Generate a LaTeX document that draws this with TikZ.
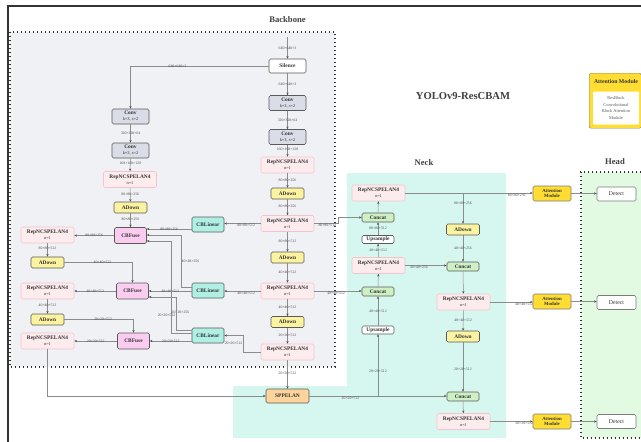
\documentclass[tikz,border=0pt]{standalone}
\usepackage{fontspec}
\setmainfont{Liberation Serif}
\usetikzlibrary{arrows.meta, positioning}
\definecolor{bbgray}{RGB}{240,241,244}
\definecolor{neckcyan}{RGB}{214,247,240}
\definecolor{headgreen}{RGB}{226,249,226}
\definecolor{convgray}{RGB}{218,221,232}
\definecolor{reppink}{RGB}{253,236,238}
\definecolor{repedge}{RGB}{244,196,204}
\definecolor{adyellow}{RGB}{251,243,160}
\definecolor{fusepink}{RGB}{250,204,240}
\definecolor{lincyan}{RGB}{176,240,228}
\definecolor{catgreen}{RGB}{206,240,196}
\definecolor{sppor}{RGB}{252,212,156}
\definecolor{attgold}{RGB}{255,221,51}
\definecolor{edge}{RGB}{90,90,90}
\definecolor{wirec}{RGB}{140,140,140}
\newcommand{\nrep}{RepNCSPELAN4\\{\mdseries\fontsize{4.4}{5}\selectfont n=1}}
\newcommand{\convk}{Conv\\{\mdseries\fontsize{4.4}{5}\selectfont k=3, s=2}}

\begin{document}
\begin{tikzpicture}[x=1pt, y=-1pt,
    blk/.style={draw=edge, rounded corners=1.5pt, align=center, inner sep=0pt, line width=0.6pt, text=black!80, font=\fontsize{5.4}{6}\selectfont\bfseries},
    conv/.style={blk, fill=convgray, minimum width=37pt, minimum height=15pt},
    rep/.style={blk, draw=repedge, fill=reppink, minimum width=53pt, minimum height=16pt},
    adown/.style={blk, fill=adyellow, minimum width=33pt, minimum height=11pt},
    fuse/.style={blk, fill=fusepink, minimum width=32pt, minimum height=16pt},
    lin/.style={blk, fill=lincyan, minimum width=32pt, minimum height=15pt},
    cat/.style={blk, fill=catgreen, minimum width=32pt, minimum height=9pt},
    plain/.style={blk, fill=white, minimum width=32pt, minimum height=8pt},
    spp/.style={blk, fill=sppor, minimum width=43pt, minimum height=14pt},
    att/.style={blk, draw=edge!80, fill=attgold, minimum width=38pt, minimum height=15pt, font=\fontsize{4.8}{5.4}\selectfont\bfseries},
    det/.style={blk, draw=edge!80, fill=white, minimum width=39pt, minimum height=14pt, font=\fontsize{5.8}{6}\selectfont},
    wire/.style={draw=wirec, line width=0.5pt, -{Stealth[length=2.6pt, width=2.2pt, color=black!70]}},
    lbl/.style={font=\fontsize{3.8}{4}\selectfont, text=black!70, inner sep=0.4pt},
    ttl/.style={font=\fontsize{8.6}{9}\selectfont\bfseries, text=black!75},
    zone/.style={line width=1.1pt, dash pattern=on 1.3pt off 2.7pt, draw=black!80},
  ]
  \useasboundingbox (0,0) rectangle (641,442);
  \fill[white] (0,0) rectangle (641,442);
  \draw[line width=1.3pt, black!80] (8,442) -- (8,6) -- (645,6);

  \fill[bbgray] (10,32) rectangle (335,367);
  \draw[zone] (10,32) rectangle (335,367);
  \fill[neckcyan] (347,173) -- (506,173) -- (506,438) -- (233,438) -- (233,386) -- (347,386) -- cycle;
  \fill[headgreen] (581,172) rectangle (645,438);
  \draw[zone] (645,172) -- (581,172) -- (581,438) -- (645,438);

  \node[ttl] (bbtitle) at (287.5,20) {Backbone};
  \node[ttl] (necktitle) at (424,163) {Neck};
  \node[ttl] (headtitle) at (615,162) {Head};
  \node[font=\fontsize{10.6}{11}\selectfont\bfseries, text=black!75] (title) at (463,96) {YOLOv9-ResCBAM};

  \node[draw=edge!80, fill=attgold, rounded corners=1.5pt, minimum width=52pt, minimum height=55pt, anchor=north west] (legend) at (589,73) {};
  \node[font=\fontsize{5.8}{6}\selectfont\bfseries, text=black!80] (legendtitle) at (616,81.5) {Attention Module};
  \node[fill=white, rounded corners=1pt, minimum width=46pt, minimum height=33pt, inner sep=0pt, align=center, text=black!65, font=\fontsize{4.4}{6.6}\selectfont] (legendbody) at (616,108) {ResBlock\\Convolutional\\Block Attention\\Module};

  % backbone spine
  \coordinate (in) at (287.5,37);
  \node[blk, fill=white, minimum width=37pt, minimum height=14pt] (sil) at (287.5,66) {Silence};
  \node[conv] (cr1) at (287.5,103) {\convk};
  \node[conv] (cr2) at (287.5,137) {\convk};
  \node[rep] (rep1) at (287.5,165) {\nrep};
  \node[adown] (adr1) at (287.5,193.5) {ADown};
  \node[rep] (rep2) at (287.5,223.5) {\nrep};
  \node[adown] (adr2) at (287.5,257.5) {ADown};
  \node[rep] (rep3) at (287.5,291) {\nrep};
  \node[adown] (adr3) at (287.5,322) {ADown};
  \node[rep] (rep4) at (287.5,352) {\nrep};
  \node[spp] (spp) at (287.5,396) {SPPELAN};

  % auxiliary branch
  \node[conv] (cl1) at (130.5,116.5) {\convk};
  \node[conv] (cl2) at (130.5,150.5) {\convk};
  \node[rep] (repl0) at (130,179.5) {\nrep};
  \node[adown] (adl0) at (130.5,207.5) {ADown};
  \node[fuse] (cbf1) at (130.5,235.5) {CBFuse};
  \node[fuse] (cbf2) at (132.5,291) {CBFuse};
  \node[fuse] (cbf3) at (133.5,341) {CBFuse};
  \node[rep] (repl1) at (47.5,235) {\nrep};
  \node[adown] (adl1) at (47.5,262.5) {ADown};
  \node[rep] (repl2) at (47.5,291) {\nrep};
  \node[adown] (adl2) at (47.5,319.5) {ADown};
  \node[rep] (repl3) at (47.5,341) {\nrep};
  \node[lin] (cbl1) at (208,224.5) {CBLinear};
  \node[lin] (cbl2) at (208,290.5) {CBLinear};
  \node[lin] (cbl3) at (208,335.5) {CBLinear};

  % neck
  \node[rep] (nrep1) at (378.5,193) {\nrep};
  \node[cat] (ncat1) at (378,217.5) {Concat};
  \node[plain] (nup1) at (378,239.5) {Upsample};
  \node[rep] (nrep2) at (378.5,265.5) {\nrep};
  \node[cat] (ncat2) at (378,291.5) {Concat};
  \node[plain] (nup2) at (378,330) {Upsample};
  \node[adown] (nad1) at (463,229.5) {ADown};
  \node[cat] (ncat3) at (463,266.5) {Concat};
  \node[rep] (nrep3) at (463.5,302) {\nrep};
  \node[adown] (nad2) at (463,336.5) {ADown};
  \node[cat] (ncat4) at (463,396.5) {Concat};
  \node[rep] (nrep4) at (463.5,421.5) {\nrep};

  % head
  \node[att] (att1) at (552,193.5) {Attention\\Module};
  \node[att] (att2) at (552,301.5) {Attention\\Module};
  \node[att] (att3) at (552,421.5) {Attention\\Module};
  \node[det] (det1) at (616.5,194) {Detect};
  \node[det] (det2) at (616.5,302.5) {Detect};
  \node[det] (det3) at (616.5,421.5) {Detect};

  \draw[wire] (in) -- node[lbl]{640×640×3} (sil);
  \draw[wire] (sil.west) -| node[lbl, pos=0.33]{640×640×3} (cl1.north);
  \draw[wire] (sil) -- node[lbl]{640×640×3} (cr1);
  \draw[wire] (cr1) -- node[lbl]{320×320×64} (cr2);
  \draw[wire] (cr2) -- node[lbl, pos=0.4]{160×160×128} (rep1);
  \draw[wire] (rep1) -- node[lbl, pos=0.45]{80×80×256} (adr1);
  \draw[wire] (adr1) -- node[lbl, pos=0.45]{80×80×256} (rep2);
  \draw[wire] (rep2) -- node[lbl, pos=0.45]{80×80×512} (adr2);
  \draw[wire] (adr2) -- node[lbl, pos=0.45]{40×40×512} (rep3);
  \draw[wire] (rep3) -- node[lbl, pos=0.45]{40×40×512} (adr3);
  \draw[wire] (adr3) -- node[lbl, pos=0.45]{20×20×512} (rep4);
  \draw[wire] (rep4) -- node[lbl, pos=0.45]{20×20×512} (spp);

  \draw[wire] (cl1) -- node[lbl]{320×320×64} (cl2);
  \draw[wire] (cl2) -- node[lbl, pos=0.4]{160×160×128} (repl0);
  \draw[wire] (repl0) -- node[lbl, pos=0.45]{80×80×256} (adl0);
  \draw[wire] (adl0) -- node[lbl, pos=0.45]{80×80×256} (cbf1);
  \draw[wire] (cbf1.west) -- node[lbl]{80×80×256} (cbf1.west -| repl1.east);
  \draw[wire] (repl1) -- node[lbl, pos=0.4]{80×80×512} (adl1);
  \draw[wire] (adl1.east) -| node[lbl, pos=0.28]{40×40×512} (cbf2.north);
  \draw[wire] (cbf2.west) -- node[lbl]{40×40×512} (cbf2.west -| repl2.east);
  \draw[wire] (repl2) -- node[lbl, pos=0.4]{40×40×512} (adl2);
  \draw[wire] (adl2.east) -| node[lbl, pos=0.28]{20×20×512} (cbf3.north);
  \draw[wire] (cbf3.west) -- node[lbl]{20×20×512} (cbf3.west -| repl3.east);
  \draw[wire] (repl3.south) |- (spp.west);

  \draw[wire] (rep2.west) -- node[lbl, below, pos=0.4]{80×80×512} (rep2.west -| cbl1.east);
  \draw[wire] (rep3.west) -- node[lbl, below, pos=0.4]{40×40×512} (rep3.west -| cbl2.east);
  \draw[wire] (rep4.west) -- (rep4.west -| 243,0) |- node[lbl, left, pos=0.25]{20×20×512} (cbl3.east);
  \draw[wire] (cbl1.west |- 0,229) -- node[lbl]{80×80×256} (cbf1.east |- 0,229);
  \draw[wire] (cbl2.west |- 0,287) -- (181,287) -- node[lbl, right]{40×40×256} (181,235) -- (cbf1.east |- 0,235);
  \draw[wire] (cbl2.west |- 0,291) -- node[lbl]{40×40×512} (cbf2.east |- 0,291);
  \draw[wire] (cbl3.west |- 0,333) -- (171,333) -- node[lbl, right, pos=0.23]{20×20×256} (171,241) -- (cbf1.east |- 0,241);
  \draw[wire] (cbl3.west |- 0,330) -- (176,330) -- node[lbl, left, pos=0.45]{20×20×512} (176,297) -- (cbf2.east |- 0,297);
  \draw[wire] (cbl3.west |- 0,341) -- node[lbl]{20×20×512} (cbf3.east |- 0,341);

  \draw[wire] (rep2.east) -- node[lbl, below, pos=0.55]{80×80×512} (rep2.east -| 338,0) |- (ncat1.west);
  \draw[wire] (rep3.east) -- node[lbl, below, pos=0.46]{40×40×512} (rep3.east -| ncat2.west);
  \draw[wire] (ncat1) -- (nrep1);
  \draw[wire] (nup1) -- node[lbl]{80×80×512} (ncat1);
  \draw[wire] (nrep2) -- node[lbl]{40×40×512} (nup1);
  \draw[wire] (ncat2) -- (nrep2);
  \draw[wire] (nup2) -- node[lbl]{40×40×512} (ncat2);
  \draw[wire] (spp.east) -- node[lbl, below, pos=0.3]{20×20×512} (spp.east -| ncat4.west);
  \draw[wire] (spp.east -| nup2) -- node[lbl, pos=0.4]{20×20×512} (nup2);
  \draw[wire] (nrep1.east) -- node[lbl, below, pos=0.875]{80×80×256} (nrep1.east -| att1.west);
  \draw[wire] (nrep1.east -| nad1) -- node[lbl, pos=0.35]{80×80×256} (nad1);
  \draw[wire] (nad1) -- node[lbl]{40×40×256} (ncat3);
  \draw[wire] (nrep2.east) -- node[lbl, below, pos=0.33]{40×40×256} (nrep2.east -| ncat3.west);
  \draw[wire] (ncat3) -- (nrep3);
  \draw[wire] (nrep3.east) -- node[lbl, below, pos=0.8]{40×40×512} (nrep3.east -| att2.west);
  \draw[wire] (nrep3) -- node[lbl]{40×40×512} (nad2);
  \draw[wire] (nad2) -- node[lbl, pos=0.55]{20×20×512} (ncat4);
  \draw[wire] (ncat4) -- (nrep4);
  \draw[wire] (nrep4.east) -- node[lbl, below, pos=0.8]{20×20×512} (nrep4.east -| att3.west);
  \draw[wire] (att1.east) -- (att1.east -| det1.west);
  \draw[wire] (att2.east) -- (att2.east -| det2.west);
  \draw[wire] (att3) -- (det3);
\end{tikzpicture}
\end{document}
